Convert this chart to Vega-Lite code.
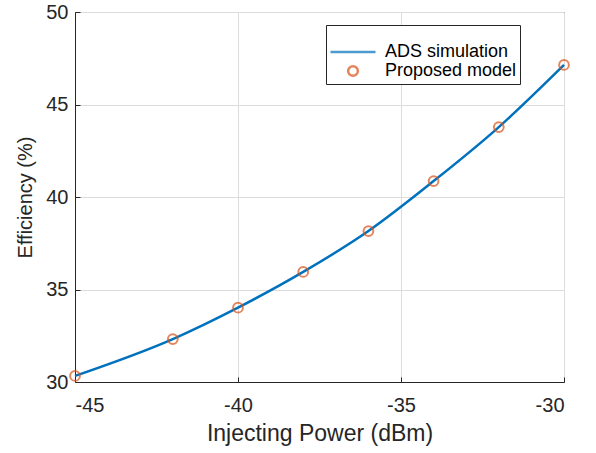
{
  "$schema": "https://vega.github.io/schema/vega-lite/v6.json",
  "width": 489,
  "height": 370,
  "autosize": "none",
  "padding": {"left": 75, "top": 12, "right": 32, "bottom": 71},
  "background": "white",
  "config": {
    "font": "Liberation Sans",
    "view": {"stroke": "#262626", "strokeWidth": 1},
    "axis": {
      "labelFont": "Liberation Sans",
      "titleFont": "Liberation Sans",
      "labelFontSize": 20,
      "titleFontSize": 21,
      "labelColor": "#262626",
      "titleColor": "#262626",
      "titleFontWeight": "normal",
      "domainColor": "#262626",
      "tickColor": "#262626",
      "gridColor": "#dcdcdc",
      "gridOpacity": 1
    }
  },
  "datasets": {
    "ads": [
      {"power": -45, "eff": 30.33, "series": "ADS simulation"},
      {"power": -42, "eff": 32.32, "series": "ADS simulation"},
      {"power": -40, "eff": 34.02, "series": "ADS simulation"},
      {"power": -38, "eff": 35.95, "series": "ADS simulation"},
      {"power": -36, "eff": 38.16, "series": "ADS simulation"},
      {"power": -34, "eff": 40.86, "series": "ADS simulation"},
      {"power": -32, "eff": 43.78, "series": "ADS simulation"},
      {"power": -30, "eff": 47.14, "series": "ADS simulation"}
    ],
    "model": [
      {"power": -45, "eff": 30.33, "series": "Proposed model"},
      {"power": -42, "eff": 32.32, "series": "Proposed model"},
      {"power": -40, "eff": 34.02, "series": "Proposed model"},
      {"power": -38, "eff": 35.95, "series": "Proposed model"},
      {"power": -36, "eff": 38.16, "series": "Proposed model"},
      {"power": -34, "eff": 40.86, "series": "Proposed model"},
      {"power": -32, "eff": 43.78, "series": "Proposed model"},
      {"power": -30, "eff": 47.14, "series": "Proposed model"}
    ]
  },
  "layer": [
    {
      "data": {"name": "ads"},
      "mark": {"type": "line", "interpolate": "monotone", "strokeWidth": 2.5},
      "encoding": {
        "x": {"field": "power", "type": "quantitative",
              "scale": {"domain": [-45, -30], "nice": false},
              "axis": {"values": [-45, -40, -35, -30], "title": "Injecting Power (dBm)", "titleFontSize": 23, "labelExpr": "toString(datum.value)", "tickSize": -5, "labelPadding": 18, "titlePadding": 7}},
        "y": {"field": "eff", "type": "quantitative",
              "scale": {"domain": [30, 50], "nice": false, "zero": false},
              "axis": {"values": [30, 35, 40, 45, 50], "title": "Efficiency (%)", "titleFontSize": 20, "tickSize": -5, "labelPadding": 12, "titlePadding": 10}},
        "color": {"field": "series", "type": "nominal",
                  "scale": {"domain": ["ADS simulation", "Proposed model"], "range": ["#0072BD", "#D95319"]}}
      }
    },
    {
      "data": {"name": "model"},
      "mark": {"type": "point", "filled": false, "strokeWidth": 2},
      "encoding": {
        "x": {"field": "power", "type": "quantitative"},
        "y": {"field": "eff", "type": "quantitative"},
        "color": {"field": "series", "type": "nominal",
                  "legend": {
                    "title": null,
                    "orient": "none",
                    "legendX": 251,
                    "legendY": 13,
                    "labelFont": "Liberation Sans",
                    "labelFontSize": 18,
                    "labelColor": "#000000",
                    "strokeColor": "#262626",
                    "fillColor": "white",
                    "padding": 3,
                    "rowPadding": 0,
                    "symbolStrokeWidth": 2.5,
                    "labelOffset": 8
                  }},
        "shape": {"field": "series", "type": "nominal",
                  "scale": {"domain": ["ADS simulation", "Proposed model"], "range": ["stroke", "circle"]}},
        "size": {"field": "series", "type": "nominal",
                 "scale": {"domain": ["ADS simulation", "Proposed model"], "range": [2025, 95]}}
      }
    }
  ]
}
